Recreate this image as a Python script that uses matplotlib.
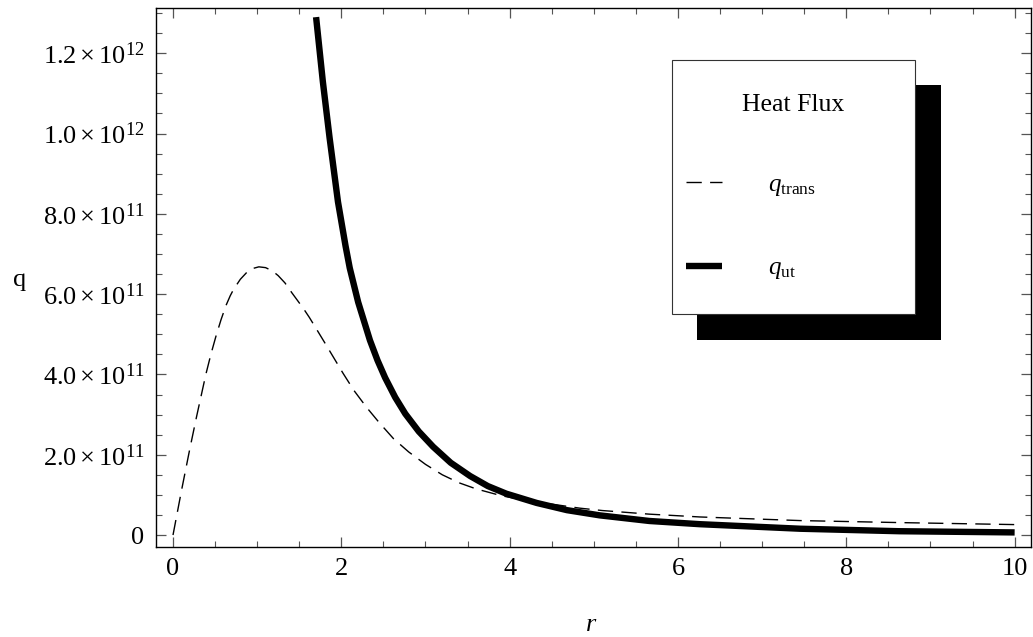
import matplotlib
matplotlib.use('Agg')
import matplotlib.pyplot as plt
from matplotlib.patches import Rectangle
from matplotlib.ticker import MultipleLocator
import numpy as np

plt.rcParams['font.family'] = ['Liberation Serif', 'DejaVu Serif']
plt.rcParams['mathtext.fontset'] = 'custom'
plt.rcParams['mathtext.rm'] = 'Liberation Serif'
plt.rcParams['mathtext.it'] = 'Liberation Serif:italic'

# q_trans (dashed), q in units of 1e11
r_trans = [0.0, 0.1, 0.2, 0.28, 0.39, 0.45, 0.51, 0.57, 0.63, 0.68, 0.72, 0.8,
           0.88, 0.95, 1.02, 1.1, 1.18, 1.25, 1.33, 1.41, 1.48, 1.55, 1.62, 1.69,
           1.8, 1.9, 2.02, 2.15, 2.3, 2.45, 2.62, 2.8, 3.0, 3.2, 3.4, 3.6, 3.9,
           4.15, 4.4, 4.83, 5.1, 5.66, 6.26, 7.45, 8.63, 10.0]
q_trans = [0.0, 1.1, 2.15, 2.95, 4.0, 4.5, 4.95, 5.36, 5.72, 5.96, 6.12, 6.37,
           6.55, 6.64, 6.68, 6.66, 6.58, 6.46, 6.28, 6.04, 5.84, 5.64, 5.42, 5.18,
           4.8, 4.45, 4.03, 3.6, 3.18, 2.8, 2.4, 2.07, 1.76, 1.5, 1.3, 1.15, 0.98,
           0.88, 0.8, 0.67, 0.61, 0.52, 0.45, 0.36, 0.31, 0.26]

# q_ut (thick solid)
r_ut = [1.70, 1.78, 1.86, 1.96, 2.05, 2.1, 2.2, 2.34, 2.43, 2.52, 2.64, 2.76,
        2.92, 3.09, 3.3, 3.53, 3.74, 3.96, 4.32, 4.68, 5.07, 5.66, 6.26, 7.45,
        8.63, 10.0]
q_ut = [12.9, 11.3, 9.9, 8.3, 7.2, 6.65, 5.8, 4.85, 4.35, 3.92, 3.43, 3.02,
        2.58, 2.2, 1.8, 1.47, 1.22, 1.03, 0.8, 0.62, 0.49, 0.35, 0.27, 0.157,
        0.095, 0.065]

y_ticks = [0, 2e11, 4e11, 6e11, 8e11, 1.0e12, 1.2e12]
y_ticklabels = ['0', r'$2.0\times10^{11}$', r'$4.0\times10^{11}$', r'$6.0\times10^{11}$',
                r'$8.0\times10^{11}$', r'$1.0\times10^{12}$', r'$1.2\times10^{12}$']
x_ticks = [0, 2, 4, 6, 8, 10]

fig = plt.figure(figsize=(10.33, 6.37), dpi=100)
ax = fig.add_axes([0.1507, 0.1418, 0.847, 0.8452])

ax.plot(r_trans, np.array(q_trans) * 1e11, color='black', lw=1.0,
        dashes=(11, 6), label=r'$q_{\mathrm{trans}}$')
ax.plot(r_ut, np.array(q_ut) * 1e11, color='black', lw=4.6,
        solid_capstyle='butt', solid_joinstyle='round', label=r'$q_{\mathrm{ut}}$')

ax.set_xlim(-0.206, 10.19)
ax.set_ylim(-0.29e11, 1.312e12)
ax.set_xticks(x_ticks)
ax.set_yticks(y_ticks)
ax.set_yticklabels(y_ticklabels)
ax.xaxis.set_minor_locator(MultipleLocator(0.5))
ax.yaxis.set_minor_locator(MultipleLocator(0.5e11))

ax.tick_params(which='both', direction='in', top=True, right=True,
               color='#555555', labelsize=19, pad=8)
ax.tick_params(which='major', length=7.5, width=0.9)
ax.tick_params(which='minor', length=4.5, width=0.8)
for s in ax.spines.values():
    s.set_linewidth(1.0)

ax.set_xlabel(r'$r$', fontsize=19, va='center')
ax.xaxis.set_label_coords(0.4975, -0.145)
ax.set_ylabel('q', fontsize=19, rotation=0, va='center', ha='center')
ax.yaxis.set_label_coords(-0.156, 0.495)

# legend box with hard black shadow
ax.add_patch(Rectangle((0.6186, 0.384), 0.2789, 0.4738, transform=ax.transAxes,
                       facecolor='black', edgecolor='none', zorder=5, clip_on=False))
ax.add_patch(Rectangle((0.590, 0.432), 0.2777, 0.472, transform=ax.transAxes,
                       facecolor='white', edgecolor='#333333', lw=0.8, zorder=6,
                       clip_on=False))
ax.text(0.7283, 0.8204, 'Heat Flux', transform=ax.transAxes, fontsize=18.5,
        ha='center', va='center', zorder=7)
leg = ax.legend(loc='center left', bbox_to_anchor=(0.606, 0.593), frameon=False,
                borderpad=0, borderaxespad=0, handlelength=1.44, handletextpad=1.84,
                labelspacing=2.36, fontsize=18)
leg.set_zorder(7)

fig.savefig('out.png', dpi=100)
